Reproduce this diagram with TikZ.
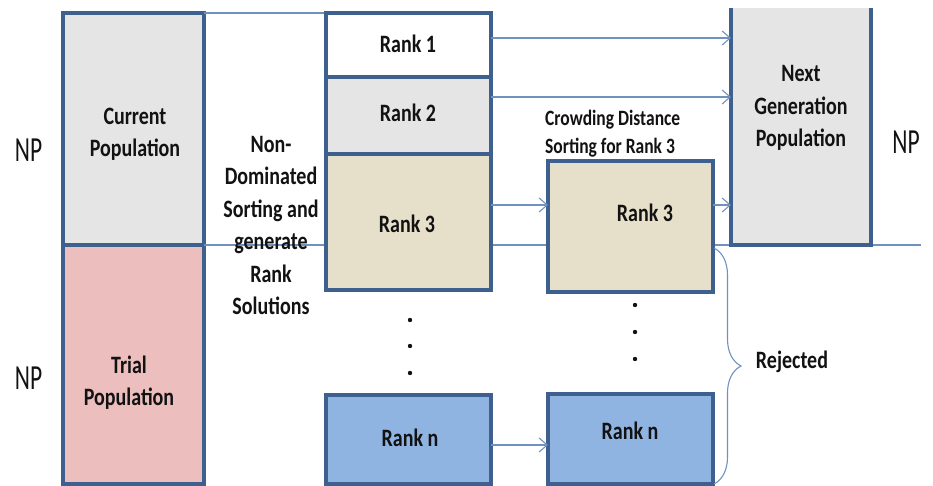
\documentclass[tikz,border=0pt]{standalone}
\usepackage{fontspec}
\usepackage{graphicx}
\setmainfont{Carlito}
\usetikzlibrary{arrows.meta,decorations.pathreplacing}
\definecolor{edge}{RGB}{62,96,142}
\definecolor{wire}{RGB}{112,146,190}
\definecolor{ink}{RGB}{18,18,18}
\definecolor{greyfill}{RGB}{229,229,229}
\definecolor{pinkfill}{RGB}{236,190,190}
\definecolor{beigefill}{RGB}{230,224,203}
\definecolor{bluefill}{RGB}{143,180,226}
% text set taller than wide
\newcommand\tallc[2][1.25]{\scalebox{1}[#1]{\begin{tabular}{@{}c@{}}#2\end{tabular}}}
\newcommand\talll[2][1.25]{\scalebox{1}[#1]{\begin{tabular}{@{}l@{}}#2\end{tabular}}}
\tikzset{
  box/.style={draw=edge, line width=3.2pt, inner sep=0pt, outer sep=0pt},
  lbl/.style={text=ink, inner sep=0pt, font=\bfseries\fontsize{20}{26}\selectfont},
  np/.style={text=ink, inner sep=0pt, font=\fontsize{23.5}{28}\selectfont},
  wireline/.style={draw=wire, line width=1.1pt},
  arr/.style={wireline, -{Straight Barb[length=8pt,width=14pt]}},
}
\begin{document}
\begin{tikzpicture}[x=1pt, y=-1pt]
\useasboundingbox (0,0) rectangle (933,486);

% population boxes on the left
\node[box, fill=greyfill, minimum width=141pt, minimum height=232pt] (cur) at (133.5,129) {};
\node[box, fill=pinkfill, minimum width=141pt, minimum height=239pt] (trial) at (133.5,364.5) {};

% boundary lines of the NP block
\coordinate (midend) at (921,245);
\draw[wireline] (cur.north east) -- (326,13) coordinate (r1nw);
\draw[wireline] (cur.south east) -- (midend);

% ranked fronts
\node[box, fill=white, minimum width=165pt, minimum height=64pt] (r1) at (408.5,45) {};
\node[box, fill=greyfill, minimum width=165pt, minimum height=77pt] (r2) at (408.5,115.5) {};
\node[box, fill=beigefill, minimum width=165pt, minimum height=136pt] (r3) at (408.5,222) {};
\node[box, fill=bluefill, minimum width=165pt, minimum height=89pt] (rn) at (408.5,439.5) {};

% crowding distance column
\node[box, fill=beigefill, minimum width=165pt, minimum height=131pt] (c3) at (630.5,226.5) {};
\node[box, fill=bluefill, minimum width=165pt, minimum height=90pt] (cn) at (630.5,439) {};

% next generation population (open at the top)
\node[fill=greyfill, inner sep=0pt, outer sep=0pt, minimum width=140pt, minimum height=237pt] (ng) at (801,126.5) {};
\draw[edge, line width=3.2pt] (ng.north west) -- (ng.south west) -- (ng.south east) -- (ng.north east);

% arrows
\draw[arr] ([yshift=7pt]r1.east) -- ([yshift=7pt]r1.east -| ng.west);
\draw[arr] ([yshift=18.5pt]r2.east) -- ([yshift=18.5pt]r2.east -| ng.west);
\draw[arr] ([yshift=17pt]r3.east) -- ([yshift=17pt]r3.east -| c3.west);
\draw[arr] ([yshift=21.5pt]c3.east) -- ([yshift=21.5pt]c3.east -| ng.west);
\draw[arr] ([yshift=-5.5pt]rn.east) -- ([yshift=-5.5pt]rn.east -| cn.west);

% rejected brace
\coordinate (bt) at (714,248);
\coordinate (bb) at (714,484);
\draw[wireline, decorate, decoration={brace, amplitude=27pt}] (bt) -- (bb);

% ellipsis dots
\foreach \y in {320,346,373} \fill[ink] (410,\y) circle (2.2pt);
\foreach \y in {305,332,359} \fill[ink] (635,\y) circle (2.2pt);

% labels
\node[lbl] (tcur) at (135,134) {\tallc{Current\\Population}};
\node[lbl] (ttrial) at (129,383) {\tallc{Trial\\Population}};
\node[lbl] (tnds) at (271,227) {\tallc{Non-\\Dominated\\Sorting and\\generate\\Rank\\Solutions}};
\node[lbl] (tr1) at (408,46) {\tallc{Rank 1}};
\node[lbl] (tr2) at (408,115) {\tallc{Rank 2}};
\node[lbl] (tr3) at (407,226) {\tallc{Rank 3}};
\node[lbl] (trn) at (410,440) {\tallc{Rank n}};
\node[lbl] (tc3) at (645,215) {\tallc{Rank 3}};
\node[lbl] (tcn) at (630,433) {\tallc{Rank n}};
\node[lbl] (tng) at (801,108) {\tallc{Next\\Generation\\Population}};
\node[lbl, anchor=west, font=\bfseries\fontsize{17.5}{22.5}\selectfont] (tcd) at (545,134) {\talll{Crowding Distance\\Sorting for Rank 3}};
\node[lbl] (trej) at (792,362) {\tallc{Rejected}};
\node[np] (np1) at (28.5,153) {\tallc[1.5]{NP}};
\node[np] (np2) at (28.5,381) {\tallc[1.5]{NP}};
\node[np] (np3) at (906,145) {\tallc[1.5]{NP}};
\end{tikzpicture}
\end{document}
